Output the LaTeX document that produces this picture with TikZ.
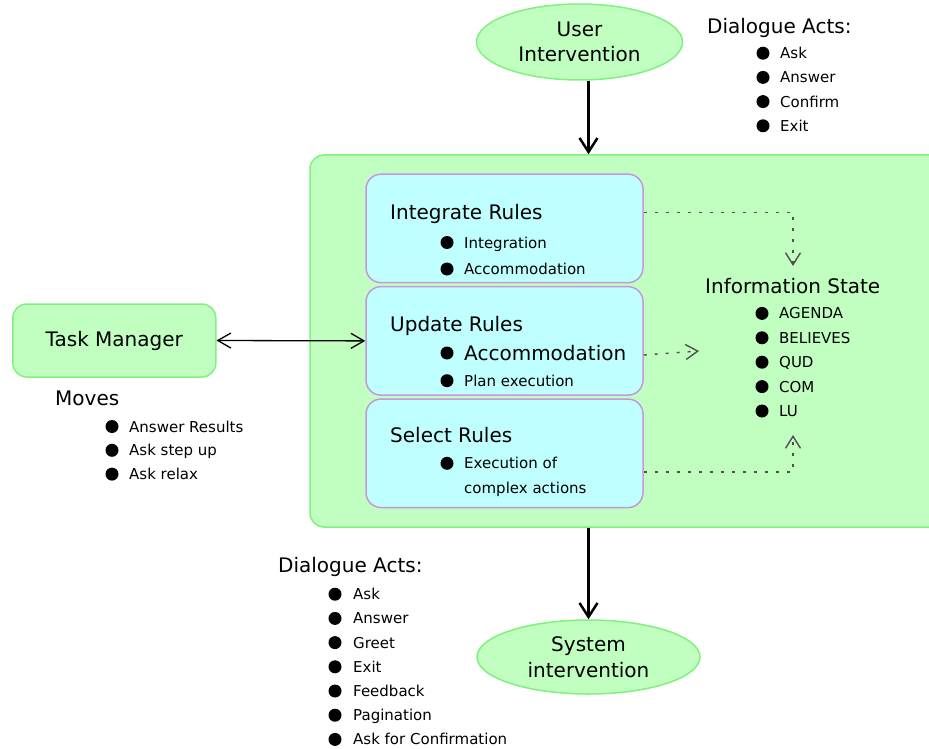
\documentclass[tikz,border=0pt]{standalone}
\usepackage{fontspec}
\setmainfont{DejaVu Sans}
\usetikzlibrary{shapes.geometric,arrows.meta,calc}
\definecolor{boxgreen}{RGB}{192,255,192}
\definecolor{linegreen}{RGB}{128,240,128}
\definecolor{boxcyan}{RGB}{192,255,255}
\definecolor{linepurple}{RGB}{200,150,220}
\definecolor{dotgray}{RGB}{80,80,80}
\tikzset{
  greenbox/.style={draw=linegreen, fill=boxgreen, line width=1.5pt, rounded corners=14pt},
  rulebox/.style={draw=linepurple, fill=boxcyan, line width=1.5pt, rounded corners=15pt,
    minimum width=277pt, minimum height=108.5pt},
  oval/.style={ellipse, draw=linegreen, fill=boxgreen, line width=1.5pt, inner sep=0pt,
    align=center, font=\fontsize{20}{25.5}\selectfont},
  headtext/.style={anchor=west, inner sep=0pt, text height=14.6pt, text depth=0pt,
    font=\fontsize{20}{25}\selectfont},
  listtext/.style={anchor=west, inner sep=0pt, text height=11pt, text depth=0pt,
    font=\fontsize{15}{24.5}\selectfont},
  bigarrow/.style={line width=2.5pt, -{Straight Barb[length=14pt,width=18pt]}},
  dotarrow/.style={dotgray, line width=1.4pt, dash pattern=on 3pt off 8pt,
    -{Straight Barb[length=12pt,width=15pt]}},
}
\begin{document}
\begin{tikzpicture}[x=1pt,y=-1pt]
  \useasboundingbox (0,0) rectangle (929,749);

  \node[greenbox, minimum width=635pt, minimum height=372pt] (core) at (627.5,341) {};
  \node[oval, minimum width=206pt, minimum height=76pt] (user) at (579.5,42) {User\\Intervention};
  \node[oval, minimum width=223pt, minimum height=74pt] (sys) at (588.5,657) {System\\intervention};
  \node[greenbox, minimum width=203pt, minimum height=73pt,
    font=\fontsize{20}{25}\selectfont] (tm) at (114.3,340.5) {Task Manager};

  \node[rulebox] (integ) at (504.5,228.4) {};
  \node[rulebox] (upd) at (504.5,340.9) {};
  \node[rulebox] (sel) at (504.5,453.3) {};

  \node[headtext] (integtitle) at (390,212.5) {Integrate Rules};
    \foreach \txt [count=\i] in {Integration,Accommodation} {
      \fill (447,216+26.5*\i) circle (6.5);
      \node[listtext] (integ\i) at (464,216+26.5*\i) {\txt};
    }
  \node[headtext] (updtitle) at (390,324) {Update Rules};
    \fill (447,353) circle (6.5);
    \node[headtext] (updacc) at (464,353) {Accommodation};
    \fill (447,380.7) circle (6.5);
    \node[listtext] (updplan) at (464,380.7) {Plan execution};
  \node[headtext] (seltitle) at (390,435) {Select Rules};
    \fill (447,463.3) circle (6.5);
    \node[listtext] (selexec) at (464,463.3) {Execution of};
    \node[listtext] (selcomplex) at (464,487.7) {complex actions};

  \node[headtext] (istitle) at (705,286) {Information State};
    \foreach \txt [count=\i] in {AGENDA,BELIEVES,QUD,COM,LU} {
      \fill (762,289+24.4*\i) circle (6.5);
      \node[listtext] (is\i) at (779,289+24.4*\i) {\txt};
    }

  \node[headtext] (datop) at (707,26) {Dialogue Acts:};
    \foreach \txt [count=\i] in {Ask,Answer,Confirm,Exit} {
      \fill (763,29+24.2*\i) circle (6.5);
      \node[listtext] (datop\i) at (780,29+24.2*\i) {\txt};
    }
  \node[headtext] (moves) at (55,398.3) {Moves};
    \foreach \txt [count=\i] in {Answer Results,Ask step up,Ask relax} {
      \fill (112,402.7+23.8*\i) circle (6.5);
      \node[listtext] (moves\i) at (129,402.7+23.8*\i) {\txt};
    }
  \node[headtext] (dabot) at (278,565) {Dialogue Acts:};
    \foreach \txt [count=\i] in {Ask,Answer,Greet,Exit,Feedback,Pagination,Ask for Confirmation} {
      \fill (335,570+24.2*\i) circle (6.5);
      \node[listtext] (dabot\i) at (353,570+24.2*\i) {\txt};
    }

  \draw[bigarrow] (user.south -| sys.center) -- (core.north -| sys.center);
  \draw[bigarrow] (core.south -| sys.center) -- (sys.north);
  \draw[line width=1.3pt, {Straight Barb[length=13pt,width=15pt]}-{Straight Barb[length=13pt,width=15pt]}]
    (tm.east) -- (upd.west);

  \coordinate (isin) at (793,266);
  \coordinate (isleft) at (699,351);
  \coordinate (isup) at (793,435);
  \coordinate (selout) at ($(selexec.west)!0.35!(selcomplex.west)$);
  \draw[dotarrow] (integtitle.west -| integ.east) -| (isin);
  \draw[dotarrow] ([yshift=-2pt]updacc.west -| upd.east) -- (isleft);
  \draw[dotarrow] (selout -| sel.east) -| (isup);

\end{tikzpicture}
\end{document}
